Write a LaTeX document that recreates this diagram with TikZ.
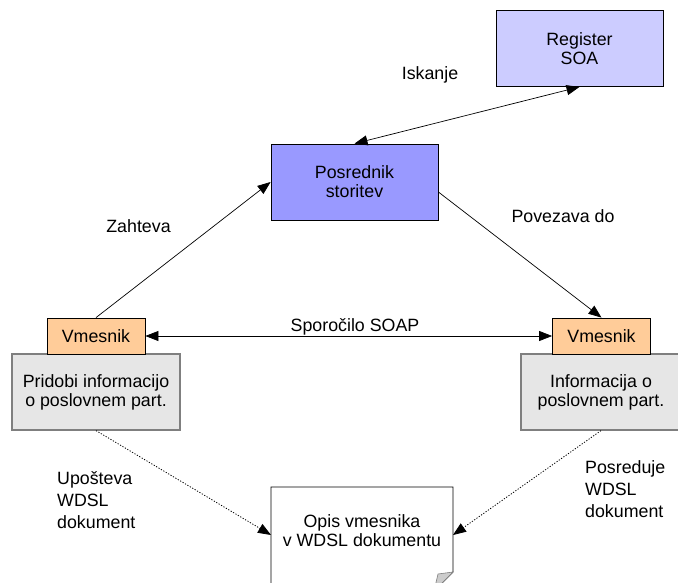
\documentclass[tikz,border=0pt]{standalone}
\usepackage{fontspec}
\setmainfont{Liberation Sans}
\usetikzlibrary{arrows.meta}
\definecolor{regfill}{HTML}{CCCCFF}
\definecolor{posfill}{HTML}{9999FF}
\definecolor{vmfill}{HTML}{FFCC99}
\definecolor{grfill}{HTML}{E6E6E6}
\definecolor{grline}{HTML}{7F7F7F}
\definecolor{foldfill}{HTML}{CCCCCC}
\tikzset{
  txt/.style={font=\fontsize{17.8}{19}\selectfont, align=center, inner sep=0pt},
  lbl/.style={font=\fontsize{17.8}{22}\selectfont, align=left, inner sep=0pt},
  bluebox/.style={txt, draw=black, line width=0.8pt, minimum width=167pt, minimum height=76pt},
  vmbox/.style={txt, draw=black, line width=0.8pt, fill=vmfill, minimum width=98pt, minimum height=36pt},
  graybox/.style={txt, draw=grline, line width=1.2pt, fill=grfill, minimum width=168pt, minimum height=76pt},
  conn/.style={line width=0.7pt, draw=black},
  dotconn/.style={line width=0.8pt, draw=black, dash pattern=on 1.2pt off 1.6pt}
}
\begin{document}
\begin{tikzpicture}[x=1pt, y=-1pt]
\useasboundingbox (0,0) rectangle (678,583);
\fill[white] (0,0) rectangle (678,583);

% boxes
\node[bluebox, fill=regfill] (reg) at (579.5,48.5) {Register\\SOA};
\node[bluebox, fill=posfill] (posr) at (354.5,182) {Posrednik\\storitev};

\node[graybox] (gl) at (96,392) {Pridobi informacijo\\o poslovnem part.};
\node[graybox] (gr) at (605,392) {};
\node[txt] (grt) at (601,392) {Informacija o\\poslovnem part.};

\node[vmbox] (vl) at (96,336) {Vmesnik};
\node[vmbox] (vr) at (601.5,336) {Vmesnik};

% document with folded corner
\coordinate (dtl) at (271,487);
\coordinate (dtr) at (453,487);
\coordinate (dfr) at (453,572);
\coordinate (dfb) at (434,591);
\coordinate (dbl) at (271,591);
\coordinate (dfi) at (438,574);
\draw[line width=0.8pt, fill=white] (dtl) -- (dtr) -- (dfr) -- (dfb) -- (dbl) -- cycle;
\draw[line width=0.6pt, draw=grline, fill=foldfill] (dfr) -- (dfi) -- (dfb) -- cycle;
\node[txt] (doc) at (362,531) {Opis vmesnika\\v WDSL dokumentu};
\coordinate (docl) at (271,535);
\coordinate (docr) at (453,535);

% connectors
\draw[conn, {Triangle[length=13pt, width=10pt]}-{Triangle[length=13pt, width=10pt]}] (posr.north) -- (reg.south);
\draw[conn, -{Triangle[length=13pt, width=10pt]}] (vl.north) -- (posr.west);
\draw[conn, -{Triangle[length=13pt, width=10pt]}] ([yshift=-10pt]posr.east) -- (vr.north);
\draw[conn, {Triangle[length=13pt, width=10pt]}-{Triangle[length=13pt, width=10pt]}] (vl.east) -- (vr.west);
\draw[dotconn, -{Triangle[length=13pt, width=10pt]}] (gl.south) -- (docl);
\draw[dotconn, -{Triangle[length=13pt, width=10pt]}] (grt.south |- gr.south) -- (docr);

% labels
\node[txt] (liskanje) at (430,75) {Iskanje};
\node[txt] (lzahteva) at (138.5,226) {Zahteva};
\node[txt] (lpovezava) at (563,216) {Povezava do};
\node[txt] (lsoap) at (355,327) {Sporočilo SOAP};
\node[lbl, anchor=west] (lupo) at (57,500) {Upošteva\\WDSL\\dokument};
\node[lbl, anchor=west] (lpos) at (585,489) {Posreduje\\WDSL\\dokument};
\end{tikzpicture}
\end{document}
